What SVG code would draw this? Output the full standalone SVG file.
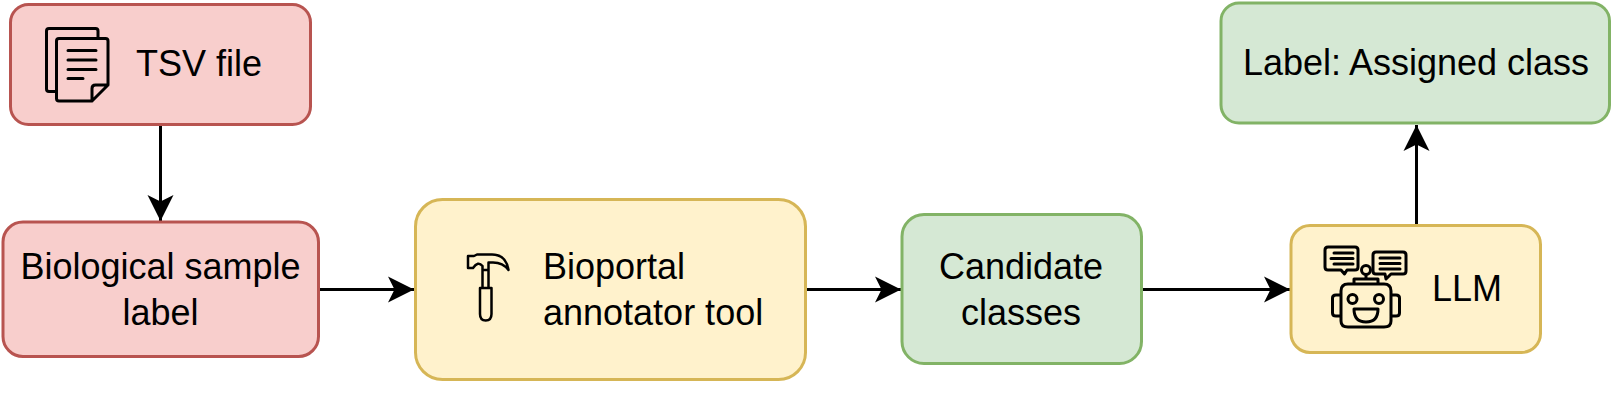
<svg xmlns="http://www.w3.org/2000/svg" width="1611" height="405" viewBox="0 0 1611 405">
<style>
.n{stroke-width:3}
.r{fill:#f8cecc;stroke:#b85450}
.y{fill:#fff2cc;stroke:#d6b656}
.g{fill:#d5e8d4;stroke:#82b366}
text{font-family:"Liberation Sans",Arial,sans-serif;font-size:36px;fill:#000;text-anchor:middle}
.s{text-anchor:start}
.c{fill:none;stroke:#000;stroke-width:3}
.i{fill:none;stroke:#000;stroke-width:3;stroke-linejoin:round;stroke-linecap:round}
.h{stroke-width:2.500}
</style>
<defs><marker id="a" markerUnits="userSpaceOnUse" markerWidth="28" markerHeight="28" refX="27" refY="14" orient="auto"><path d="M1 1 L27 14 L1 27 L7.500 14Z" fill="#000"/></marker></defs>
<g id="connectors">
<path class="c" marker-end="url(#a)" d="M160.500 125V221"/>
<path class="c" marker-end="url(#a)" d="M319 289.500H414"/>
<path class="c" marker-end="url(#a)" d="M806 289.500H901"/>
<path class="c" marker-end="url(#a)" d="M1142 289.500H1290"/>
<path class="c" marker-end="url(#a)" d="M1416.500 225V125"/>
</g>
<g id="tsv"><rect class="n r" x="10.500" y="4.500" width="300" height="120" rx="18"/>
<path class="i" d="M55 91.500H49Q46.500 91.500 46.500 89V31Q46.500 28.500 49 28.500H95.500Q98 28.500 98 31V38.500"/>
<path class="i" d="M92 101H59Q56.500 101 56.500 98.500V41Q56.500 38.500 59 38.500H105.500Q108 38.500 108 41V85L92 101V88.500Q92 85 95.500 85H108"/>
<path class="i" d="M68 50.500H96M68 60H96M68 69.500H96M68 78.500H83"/>
<text x="199" y="76">TSV file</text></g>
<g id="bio"><rect class="n r" x="3" y="222" width="315.500" height="134.500" rx="20"/>
<text x="160.500" y="279">Biological sample</text><text x="160.500" y="325">label</text></g>
<g id="bioportal"><rect class="n y" x="415.500" y="199.500" width="390" height="180" rx="27"/>
<path class="i h" d="M468 256H474L477 254.500H492Q506 254.500 508.500 270Q503 262.500 493 262.500H488.500V270H482.500V266Q478 260.500 473 268H468ZM482.500 270V288M488.500 270V288M480 288H491.500V314Q491.500 320.500 485.700 320.500Q480 320.500 480 314Z"/>
<text x="543" y="279" class="s">Bioportal</text><text x="543" y="325" class="s">annotator tool</text></g>
<g id="candidate"><rect class="n g" x="902" y="214.500" width="239.500" height="149" rx="22"/>
<text x="1021" y="279">Candidate</text><text x="1021" y="325">classes</text></g>
<g id="llm"><rect class="n y" x="1291" y="225.500" width="249.500" height="127" rx="19"/>
<path class="i" d="M1328 247H1355Q1358 247 1358 250V267Q1358 270 1355 270H1347L1344.500 274L1341 270H1328Q1325 270 1325 267V250Q1325 247 1328 247ZM1334 253H1353M1331 258.500H1353M1334 264H1353"/>
<path class="i" d="M1376 252H1403Q1406 252 1406 255V271Q1406 274 1403 274H1391L1386 279L1385 274H1376Q1373 274 1373 271V255Q1373 252 1376 252ZM1380 258H1400M1380 263.500H1400M1380 269H1400"/>
<circle class="i" cx="1366" cy="270" r="4.500"/>
<path class="i" d="M1366 275V279M1354 284V279H1378V284M1348 284H1384Q1391 284 1391 291V321Q1391 327 1384 327H1348Q1341 327 1341 321V291Q1341 284 1348 284ZM1341 295H1336Q1332.500 295 1332.500 298V313Q1332.500 316 1336 316H1341M1391 295H1396Q1399.500 295 1399.500 298V313Q1399.500 316 1396 316H1391M1354 309H1378Q1378 322 1366 322Q1354 322 1354 309Z"/>
<circle class="i" cx="1352.500" cy="299" r="4.500"/><circle class="i" cx="1379" cy="299" r="4.500"/>
<text x="1467" y="301">LLM</text></g>
<g id="assigned"><rect class="n g" x="1221" y="3" width="388.500" height="120" rx="18"/>
<text x="1416" y="75">Label: Assigned class</text></g>
</svg>
